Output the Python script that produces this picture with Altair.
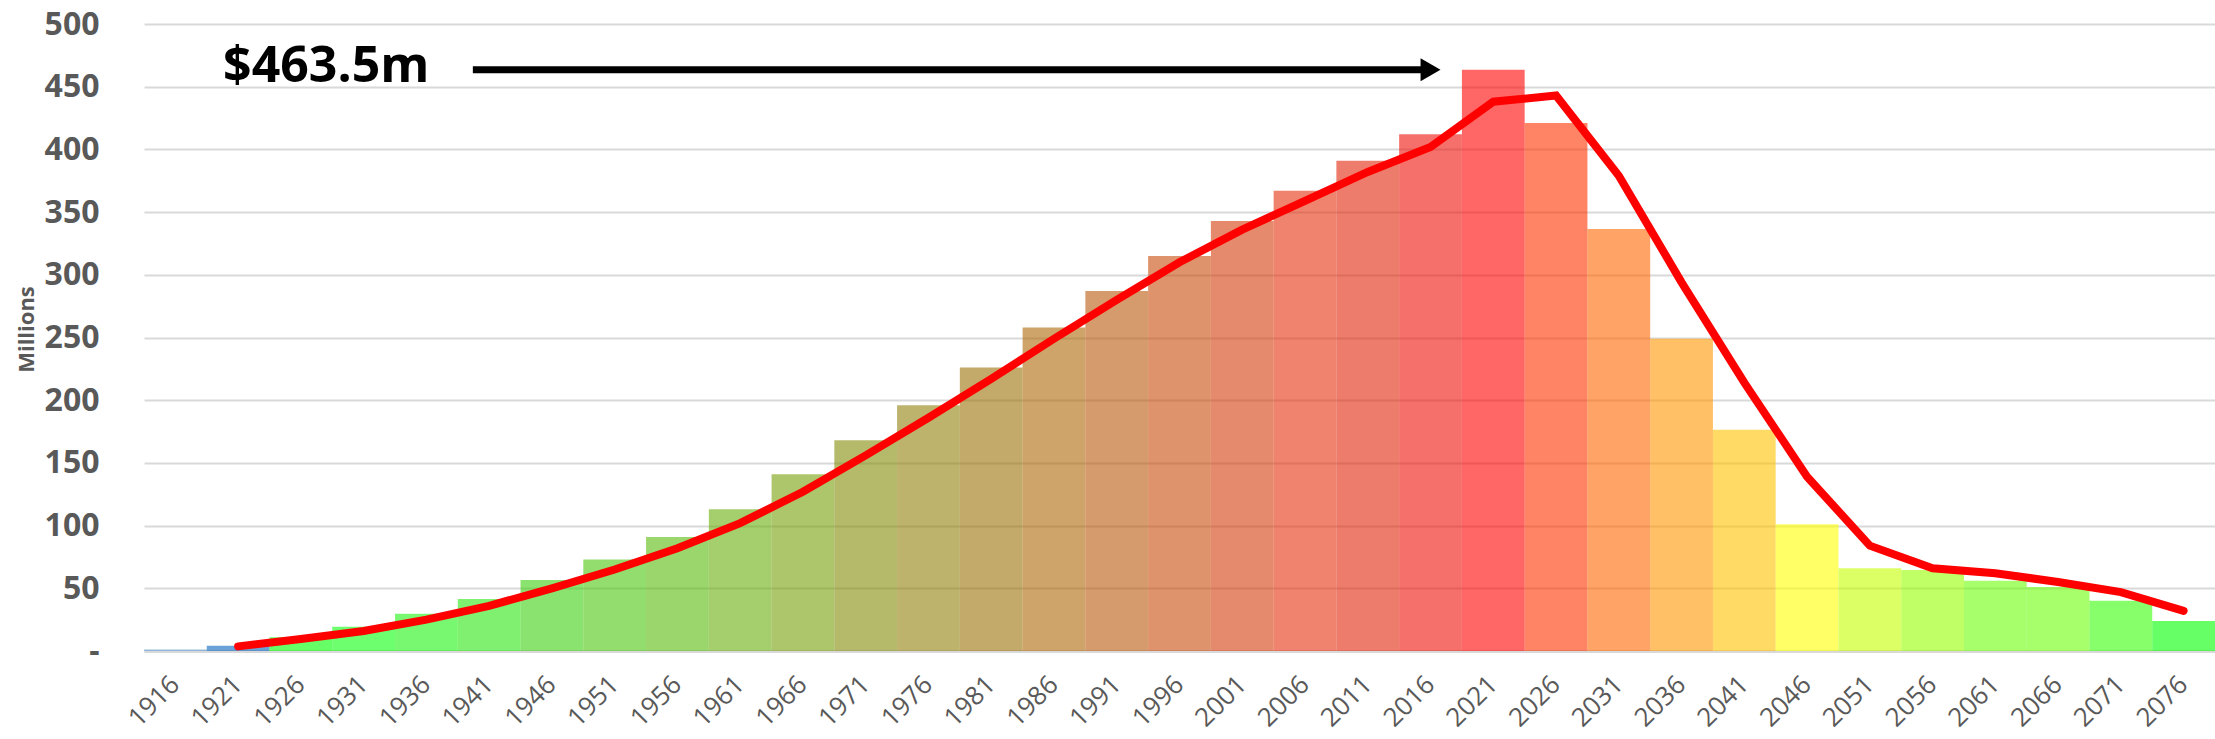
import altair as alt
import pandas as pd

YEARS = ["1916", "1921", "1926", "1931", "1936", "1941", "1946", "1951", "1956",
         "1961", "1966", "1971", "1976", "1981", "1986", "1991", "1996", "2001",
         "2006", "2011", "2016", "2021", "2026", "2031", "2036", "2041", "2046",
         "2051", "2056", "2061", "2066", "2071", "2076"]

BAR_VALUES = [1.2, 4.2, 10.9, 19.4, 29.7, 41.4, 56.6, 73, 91,
              113, 141, 168, 196, 226, 258, 287, 315, 343,
              367, 391, 412, 463.5, 421, 336.5, 249, 176.5, 101,
              66, 64.6, 56, 51, 40, 24]

LINE_YEARS = ["1921", "1926", "1931", "1936", "1941", "1946", "1951", "1956",
              "1961", "1966", "1971", "1976", "1981", "1986", "1991", "1996", "2001",
              "2006", "2011", "2016", "2021", "2026", "2031", "2036", "2041", "2046",
              "2051", "2056", "2061", "2066", "2071", "2076"]

LINE_VALUES = [3.7, 9.5, 16, 25, 36, 50, 65, 82,
               102, 127, 156, 186, 217, 249, 280, 310, 336,
               359, 382, 402, 438, 443, 379, 294, 214, 139,
               84, 66, 62, 55, 47, 32]

BAR_COLORS = ["#5C9BD5", "#0764BC", "#00FF00", "#0DFF0D", "#1EF311", "#2BE611",
              "#3CD00D", "#49C60D", "#57BB0A", "#69AD0A", "#769E08", "#848C08",
              "#91800C", "#9D7107", "#AD6707", "#BB580A", "#C84B0A", "#D53C0C",
              "#E4300C", "#E3250A", "#EE1107", "#FF0000", "#FF3200", "#FF6600",
              "#FF9600", "#FFC300", "#FFFF00", "#C6FF00", "#96FF00", "#6BFF08",
              "#6BFF08", "#35FF08", "#00FF00"]

Y_TICKS = [0, 50, 100, 150, 200, 250, 300, 350, 400, 450, 500]

PEAK_LABEL = "$463.5m"
PEAK_VALUE = 463.5
ARROW_START = "1941"
ARROW_END = "2016"
LABEL_AT = "1921"

bars_df = pd.DataFrame({"year": YEARS, "value": BAR_VALUES})
line_df = pd.DataFrame({"year": LINE_YEARS, "value": LINE_VALUES})
ann_df = pd.DataFrame({
    "start": [ARROW_START], "end": [ARROW_END], "label_at": [LABEL_AT],
    "value": [PEAK_VALUE], "label": [PEAK_LABEL],
})

x_scale = alt.Scale(domain=YEARS, paddingInner=0, paddingOuter=0)
y_scale = alt.Scale(domain=[0, 500], nice=False)

x_axis = alt.Axis(
    title=None, labelAngle=-45, labelAlign="right", labelBaseline="middle",
    labelPadding=29, labelFont="Open Sans", labelFontSize=26,
    labelColor="#595959", ticks=False, domainColor="#D9D9D9", domainWidth=3,
    grid=False, labelOverlap=False,
)
y_axis = alt.Axis(
    title="Millions", values=Y_TICKS,
    labelExpr="datum.value == 0 ? '-' : datum.label",
    labelFont="Open Sans", labelFontSize=32, labelFontWeight="bold",
    labelColor="#595959", labelPadding=45, labelFlush=False,
    ticks=False, domain=False, gridColor="#D9D9D9", gridWidth=2,
    titleFont="Open Sans", titleFontSize=22, titleFontWeight="bold",
    titleColor="#595959", titleAngle=270, titleX=-118, titleY=305,
    titleAlign="center", titleBaseline="middle",
)

bars = alt.Chart(bars_df).mark_bar(opacity=0.6).encode(
    x=alt.X("year:O", scale=x_scale, axis=x_axis),
    y=alt.Y("value:Q", scale=y_scale, axis=y_axis),
    color=alt.Color("year:O", scale=alt.Scale(domain=YEARS, range=BAR_COLORS), legend=None),
)

line = alt.Chart(line_df).mark_line(color="#FF0000", strokeWidth=8, strokeCap="round").encode(
    x=alt.X("year:O", scale=x_scale, title=None),
    y=alt.Y("value:Q", scale=y_scale, title="Millions"),
)

arrow = alt.Chart(ann_df).mark_rule(color="black", strokeWidth=7).encode(
    x=alt.X("start:O", scale=x_scale, bandPosition=0.24, title=None),
    x2=alt.X2("end", bandPosition=0.5),
    y=alt.Y("value:Q", scale=y_scale, title="Millions"),
)

head = alt.Chart(ann_df).mark_point(shape="triangle-right", size=530, filled=True,
                                    color="black", opacity=1).encode(
    x=alt.X("end:O", scale=x_scale, bandPosition=0.5, title=None),
    y=alt.Y("value:Q", scale=y_scale, title="Millions"),
)

label = alt.Chart(ann_df).mark_text(align="left", baseline="middle", font="Open Sans",
                                    fontSize=50, fontWeight="bold", color="black", dy=-3).encode(
    x=alt.X("label_at:O", scale=x_scale, bandPosition=0.26, title=None),
    y=alt.Y("value:Q", scale=y_scale, title="Millions"),
    text="label:N",
)

chart = alt.layer(bars, line, arrow, head, label).properties(
    width=2071, height=627,
    padding={"left": 144, "top": 24, "right": 0, "bottom": 88},
    autosize=alt.AutoSizeParams(type="none"),
    background="white",
).configure_view(stroke="transparent")

chart.save("out.html", embed_options={"renderer": "svg", "actions": False})
